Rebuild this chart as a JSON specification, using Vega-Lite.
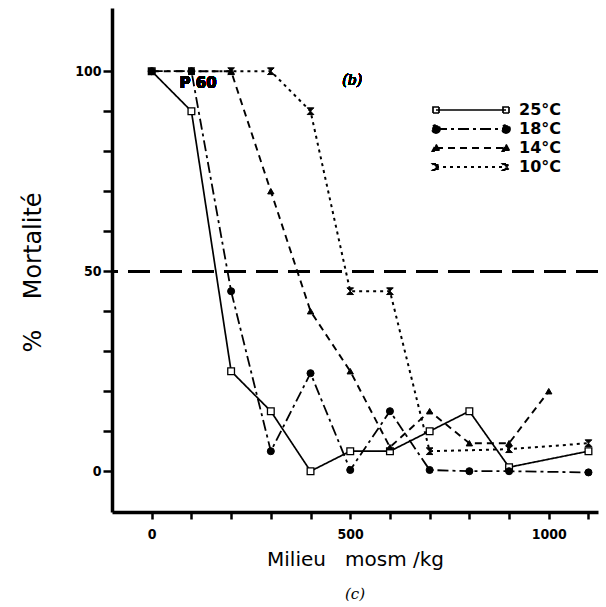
{
  "$schema": "https://vega.github.io/schema/vega-lite/v6.json",
  "width": 486,
  "height": 504,
  "autosize": {"type": "none"},
  "padding": {"left": 112, "top": 8, "right": 8, "bottom": 95},
  "background": "white",
  "title": {"text": "(c)", "orient": "bottom", "font": "DejaVu Serif", "fontStyle": "italic", "fontWeight": "normal", "fontSize": 15, "color": "black", "offset": 18},
  "config": {
    "view": {"stroke": null},
    "axis": {"grid": false, "domainColor": "black", "tickColor": "black", "labelColor": "black", "titleColor": "black"}
  },
  "data": {"values": [
    {"series": "25°C", "x": 0, "y": 100},
    {"series": "25°C", "x": 100, "y": 90},
    {"series": "25°C", "x": 200, "y": 25},
    {"series": "25°C", "x": 300, "y": 15},
    {"series": "25°C", "x": 400, "y": 0},
    {"series": "25°C", "x": 500, "y": 5},
    {"series": "25°C", "x": 600, "y": 5},
    {"series": "25°C", "x": 700, "y": 10},
    {"series": "25°C", "x": 800, "y": 15},
    {"series": "25°C", "x": 900, "y": 1},
    {"series": "25°C", "x": 1100, "y": 5},
    {"series": "18°C", "x": 0, "y": 100},
    {"series": "18°C", "x": 100, "y": 100},
    {"series": "18°C", "x": 200, "y": 45},
    {"series": "18°C", "x": 300, "y": 5},
    {"series": "18°C", "x": 400, "y": 24.5},
    {"series": "18°C", "x": 500, "y": 0.3},
    {"series": "18°C", "x": 600, "y": 15},
    {"series": "18°C", "x": 700, "y": 0.3},
    {"series": "18°C", "x": 800, "y": 0},
    {"series": "18°C", "x": 900, "y": 0},
    {"series": "18°C", "x": 1100, "y": -0.3},
    {"series": "14°C", "x": 0, "y": 100},
    {"series": "14°C", "x": 100, "y": 100},
    {"series": "14°C", "x": 200, "y": 100},
    {"series": "14°C", "x": 300, "y": 70},
    {"series": "14°C", "x": 400, "y": 40},
    {"series": "14°C", "x": 500, "y": 25},
    {"series": "14°C", "x": 600, "y": 6},
    {"series": "14°C", "x": 700, "y": 15},
    {"series": "14°C", "x": 800, "y": 7},
    {"series": "14°C", "x": 900, "y": 7},
    {"series": "14°C", "x": 1000, "y": 20},
    {"series": "10°C", "x": 100, "y": 100},
    {"series": "10°C", "x": 200, "y": 100},
    {"series": "10°C", "x": 300, "y": 100},
    {"series": "10°C", "x": 400, "y": 90},
    {"series": "10°C", "x": 500, "y": 45},
    {"series": "10°C", "x": 600, "y": 45},
    {"series": "10°C", "x": 700, "y": 5},
    {"series": "10°C", "x": 900, "y": 5.5},
    {"series": "10°C", "x": 1100, "y": 7}
  ]},
  "encoding": {
    "x": {
      "field": "x", "type": "quantitative",
      "scale": {"domain": [-100, 1124], "nice": false, "zero": false},
      "axis": {
        "title": "Milieu\u00a0\u00a0 mosm /kg",
        "values": [0, 100, 200, 300, 400, 500, 600, 700, 800, 900, 1000, 1100],
        "labelExpr": "datum.value % 500 === 0 ? datum.label : ''",
        "format": "d",
        "domainWidth": 3.5, "tickWidth": 2.5, "tickSize": 7,
        "labelFont": "DejaVu Sans Condensed", "labelFontWeight": "bold", "labelFontSize": 14, "labelPadding": 8,
        "titleFont": "DejaVu Sans", "titleFontWeight": "normal", "titleFontSize": 20, "titlePadding": 8
      }
    },
    "y": {
      "field": "y", "type": "quantitative",
      "scale": {"domain": [-10.2, 115.8], "nice": false, "zero": false},
      "axis": {
        "title": "%\u00a0\u00a0\u00a0 Mortalité",
        "values": [0, 10, 20, 30, 40, 50, 60, 70, 80, 90, 100],
        "labelExpr": "datum.value % 50 === 0 ? datum.label : ''",
        "domainWidth": 3.5, "tickWidth": 2.5, "tickSize": 9,
        "labelFont": "DejaVu Sans Condensed", "labelFontWeight": "bold", "labelFontSize": 14, "labelPadding": 2,
        "titleFont": "DejaVu Sans", "titleFontWeight": "normal", "titleFontSize": 24,
        "titleAngle": -90, "titleX": -79, "titleY": 264, "titleAlign": "center", "titleBaseline": "middle"
      }
    }
  },
  "layer": [
    {
      "mark": {"type": "rule", "strokeDash": [22, 10], "strokeWidth": 2, "color": "black"},
      "encoding": {"y": {"datum": 50}, "x": null}
    },
    {
      "mark": {"type": "line", "color": "black"},
      "encoding": {
        "detail": {"field": "series"},
        "strokeDash": {
          "field": "series", "type": "nominal",
          "scale": {"domain": ["25°C", "18°C", "14°C", "10°C"], "range": [[1, 0], [11, 4, 3, 4], [7, 5], [3, 4]]},
          "legend": {
            "orient": "none", "legendX": 351, "legendY": 94, "title": null,
            "symbolSize": 100, "symbolStrokeColor": "black", "symbolStrokeWidth": 2, "symbolType": "M-7,0H7",
            "labelFont": "DejaVu Sans", "labelFontWeight": "bold", "labelFontSize": 16, "labelColor": "black", "labelOffset": 40,
            "rowPadding": 3,
            "encode": {
              "symbols": {
                "update": {
                  "shape": {"signal": "datum.value === '25°C' ? 'M-7,0H7M-7.6,-0.6H-6.4V0.6H-7.6ZM6.4,-0.6H7.6V0.6H6.4Z' : datum.value === '18°C' ? 'M-7,0H7M-6.2,0A0.8,0.8 0 1 1 -7.8,0A0.8,0.8 0 1 1 -6.2,0ZM7.8,0A0.8,0.8 0 1 1 6.2,0A0.8,0.8 0 1 1 7.8,0Z' : datum.value === '14°C' ? 'M-7,0H7M-7,-0.7L-6.3,0.6H-7.7ZM7,-0.7L7.7,0.6H6.3Z' : 'M-7,0H7M-7.6,-0.6H-6.4L-7.6,0.6H-6.4ZM6.4,-0.6H7.6L6.4,0.6H7.6Z'"},
                  "fill": {"signal": "datum.value === '25°C' ? 'white' : 'black'"},
                  "stroke": {"value": "black"},
                  "opacity": {"value": 1}
                }
              }
            }
          }
        },
        "strokeWidth": {
          "field": "series", "type": "nominal",
          "scale": {"domain": ["25°C", "18°C", "14°C", "10°C"], "range": [1.7, 2, 2, 3.2]},
          "legend": null
        }
      }
    },
    {
      "transform": [{"filter": "datum.series === '25°C'"}],
      "mark": {"type": "point", "shape": "square", "filled": true, "fill": "white", "stroke": "black", "strokeWidth": 1.3, "opacity": 1, "size": 45}
    },
    {
      "transform": [{"filter": "datum.series === '18°C'"}],
      "mark": {"type": "point", "shape": "circle", "filled": true, "fill": "black", "stroke": "black", "strokeWidth": 1, "opacity": 1, "size": 50}
    },
    {
      "transform": [{"filter": "datum.series === '14°C'"}],
      "mark": {"type": "point", "shape": "triangle-up", "filled": true, "fill": "black", "stroke": "black", "strokeWidth": 1, "opacity": 1, "size": 40}
    },
    {
      "transform": [{"filter": "datum.series === '10°C'"}],
      "mark": {"type": "point", "shape": "M-1,-1H1L-1,1H1Z", "filled": true, "fill": "black", "stroke": "black", "strokeWidth": 1, "opacity": 1, "size": 45}
    },
    {
      "mark": {"type": "text", "text": "P 60", "font": "DejaVu Sans", "fontWeight": "bold", "fontSize": 15, "color": "black"},
      "encoding": {"x": {"datum": 117}, "y": {"datum": 97}}
    },
    {
      "mark": {"type": "text", "text": "(b)", "font": "DejaVu Serif", "fontStyle": "italic", "fontSize": 14, "color": "black"},
      "encoding": {"x": {"datum": 505}, "y": {"datum": 97.5}}
    }
  ]
}
